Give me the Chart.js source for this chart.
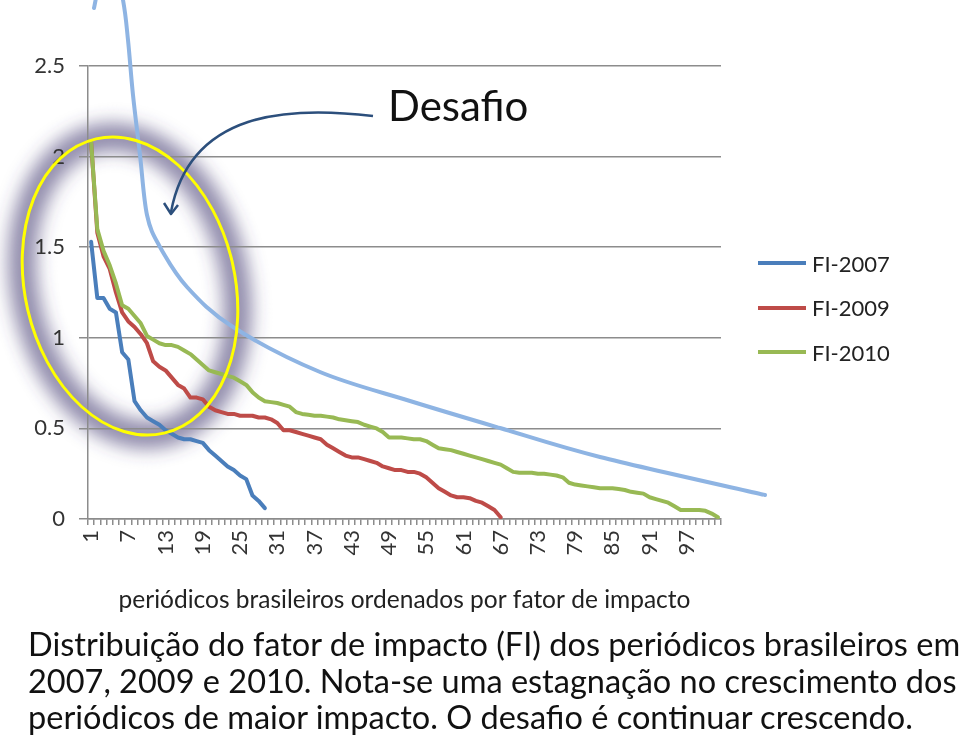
<!DOCTYPE html>
<html>
<head>
<meta charset="utf-8">
<script src="https://cdn.jsdelivr.net/npm/chart.js@4.4.1/dist/chart.umd.min.js"></script>
<style>
  body { margin: 0; background: #fff; font-family: Lato, sans-serif; }
  #page { position: relative; width: 960px; height: 750px; overflow: hidden; }
  #page > * { position: absolute; left: 0; top: 0; }
  #chart { z-index: 1; }
  #glow { z-index: 0; }
  #overlay { z-index: 2; pointer-events: none; }
  #legend { z-index: 3; left: 758px; top: 241px; }
  .leg-item { display: flex; align-items: center; height: 44.5px; font-size: 22px; color: #222; }
  .leg-line { width: 48px; height: 4px; margin-right: 6px; }
  #caption { z-index: 3; left: 28px; top: 626px; font-size: 32.5px; line-height: 36.5px; color: #111; white-space: nowrap; }
</style>
</head>
<body>
<div id="page">
  <svg id="glow" width="960" height="750">
    <defs><filter id="blur" x="-50%" y="-50%" width="200%" height="200%"><feGaussianBlur stdDeviation="9"/></filter></defs>
    <ellipse cx="130" cy="286" rx="105" ry="151" transform="rotate(-13 130 286)" fill="none"
             stroke="rgba(70,60,115,0.6)" stroke-width="28" filter="url(#blur)"/>
  </svg>
  <canvas id="chart" width="960" height="620"></canvas>
  <svg id="overlay" width="960" height="750">
    <path id="challenge" fill="none" stroke="#8eb4e3" stroke-width="4" stroke-linecap="round"/>
    <ellipse cx="130" cy="286" rx="105" ry="151" transform="rotate(-13 130 286)" fill="none" stroke="#ffff00" stroke-width="3"/>
    <path d="M373,116 C290,106 190,110 171,212" fill="none" stroke="#2c4f7c" stroke-width="2.5"/>
    <path d="M164,203 L171,214 L178,205" fill="none" stroke="#2c4f7c" stroke-width="2.5" stroke-linejoin="round"/>
    <text x="388" y="121" font-family="Lato" font-size="42" fill="#111">Desafio</text>
  </svg>
  <div id="legend"></div>
  <div id="caption">Distribuição do fator de impacto (FI) dos periódicos brasileiros em<br>2007, 2009 e 2010. Nota-se uma estagnação no crescimento dos<br>periódicos de maior impacto. O desafio é continuar crescendo.</div>
</div>
<script>
// categorias 1..102 (periódicos ordenados)
const categories = Array.from({ length: 102 }, (_, i) => String(i + 1));
const tickEvery = 6;

const fi2007 = [1.53, 1.22, 1.22, 1.16, 1.14, 0.92, 0.88, 0.65, 0.60, 0.56,
  0.54, 0.52, 0.49, 0.47, 0.45, 0.44, 0.44, 0.43, 0.42, 0.38,
  0.35, 0.32, 0.29, 0.27, 0.24, 0.22, 0.13, 0.10, 0.06];

const fi2009 = [2.08, 1.58, 1.45, 1.38, 1.25, 1.14, 1.09, 1.06, 1.02, 0.97,
  0.87, 0.84, 0.82, 0.78, 0.74, 0.72, 0.67, 0.67, 0.66, 0.62,
  0.60, 0.59, 0.58, 0.58, 0.57, 0.57, 0.57, 0.56, 0.56, 0.55,
  0.53, 0.49, 0.49, 0.48, 0.47, 0.46, 0.45, 0.44, 0.41, 0.39,
  0.37, 0.35, 0.34, 0.34, 0.33, 0.32, 0.31, 0.29, 0.28, 0.27,
  0.27, 0.26, 0.26, 0.25, 0.23, 0.20, 0.17, 0.15, 0.13, 0.12,
  0.12, 0.115, 0.10, 0.09, 0.07, 0.05, 0.01];

const fi2010 = [2.08, 1.60, 1.48, 1.40, 1.30, 1.18, 1.16, 1.12, 1.08, 1.01,
  0.99, 0.97, 0.96, 0.96, 0.95, 0.93, 0.91, 0.88, 0.85, 0.82,
  0.81, 0.80, 0.79, 0.78, 0.76, 0.74, 0.70, 0.67, 0.65, 0.645,
  0.64, 0.63, 0.62, 0.59, 0.58, 0.575, 0.57, 0.57, 0.565, 0.56,
  0.55, 0.545, 0.54, 0.535, 0.52, 0.51, 0.50, 0.48, 0.45, 0.45,
  0.45, 0.445, 0.44, 0.44, 0.43, 0.41, 0.39, 0.385, 0.38, 0.37,
  0.36, 0.35, 0.34, 0.33, 0.32, 0.31, 0.30, 0.28, 0.26, 0.255,
  0.255, 0.255, 0.25, 0.25, 0.245, 0.24, 0.23, 0.20, 0.19, 0.185,
  0.18, 0.175, 0.17, 0.17, 0.17, 0.165, 0.16, 0.15, 0.145, 0.14,
  0.12, 0.11, 0.10, 0.09, 0.07, 0.05, 0.05, 0.05, 0.05, 0.045,
  0.03, 0.01];

const seriesNames = ['FI-2007', 'FI-2009', 'FI-2010'];
const seriesColors = ['#4a7ebb', '#be4b48', '#98b954'];

// curva "Desafio" desenhada à mão (anotação, em pixels da página)
const challengePts = [[94, 8], [110, -60], [123, 0], [128, 40], [133, 95], [140, 155], [147, 215],
  [160, 247], [187, 287], [233, 327], [320, 372], [410, 401], [500, 428], [600, 457], [765, 495]];

function catmull(pts) {
  let d = `M${pts[0][0]},${pts[0][1]}`;
  for (let i = 0; i < pts.length - 1; i++) {
    const p0 = pts[Math.max(i - 1, 0)], p1 = pts[i], p2 = pts[i + 1], p3 = pts[Math.min(i + 2, pts.length - 1)];
    const c1 = [p1[0] + (p2[0] - p0[0]) / 6, p1[1] + (p2[1] - p0[1]) / 6];
    const c2 = [p2[0] - (p3[0] - p1[0]) / 6, p2[1] - (p3[1] - p1[1]) / 6];
    d += ` C${c1[0]},${c1[1]} ${c2[0]},${c2[1]} ${p2[0]},${p2[1]}`;
  }
  return d;
}
document.getElementById('challenge').setAttribute('d', catmull(challengePts));

const axisGray = '#8c8c8c';
const tickFont = { family: 'Lato', size: 22 };

const chart = new Chart(document.getElementById('chart'), {
  type: 'line',
  data: {
    labels: categories,
    datasets: [
      { label: seriesNames[0], data: fi2007, borderColor: seriesColors[0], order: 2 },
      { label: seriesNames[1], data: fi2009, borderColor: seriesColors[1], order: 1 },
      { label: seriesNames[2], data: fi2010, borderColor: seriesColors[2], order: 0 }
    ]
  },
  options: {
    responsive: false,
    animation: false,
    layout: { padding: { top: 66, right: 239, left: 0, bottom: 0 } },
    plugins: { legend: { display: false }, tooltip: { enabled: false } },
    elements: {
      point: { radius: 0 },
      line: { borderWidth: 4, tension: 0, borderJoinStyle: 'round', borderCapStyle: 'round' }
    },
    scales: {
      x: {
        offset: true,
        grid: { offset: true, drawOnChartArea: false, tickLength: 6, color: axisGray, lineWidth: 1.5 },
        border: { color: axisGray, width: 1.5 },
        ticks: {
          autoSkip: false, maxRotation: 90, minRotation: 90, padding: 5,
          color: '#333', font: tickFont,
          callback: (v, i) => (i % tickEvery === 0 ? categories[i] : '')
        },
        title: {
          display: true, text: 'periódicos brasileiros ordenados por fator de impacto',
          color: '#222', font: { family: 'Lato', size: 24.5 }, padding: { top: 0, bottom: 5 }
        },
        afterFit: (s) => { s.height = 101; }
      },
      y: {
        min: 0, max: 2.5,
        ticks: { stepSize: 0.5, padding: 14, color: '#333', font: tickFont, callback: (v) => String(v) },
        grid: { color: axisGray, lineWidth: 1.5, tickLength: 9 },
        border: { color: axisGray, width: 1.5 },
        afterFit: (s) => { s.width = 88; }
      }
    }
  }
});

// legenda em HTML
const legend = document.getElementById('legend');
chart.data.datasets.forEach(ds => {
  const item = document.createElement('div');
  item.className = 'leg-item';
  item.innerHTML = `<span class="leg-line" style="background:${ds.borderColor}"></span>${ds.label}`;
  legend.appendChild(item);
});
</script>
</body>
</html>
